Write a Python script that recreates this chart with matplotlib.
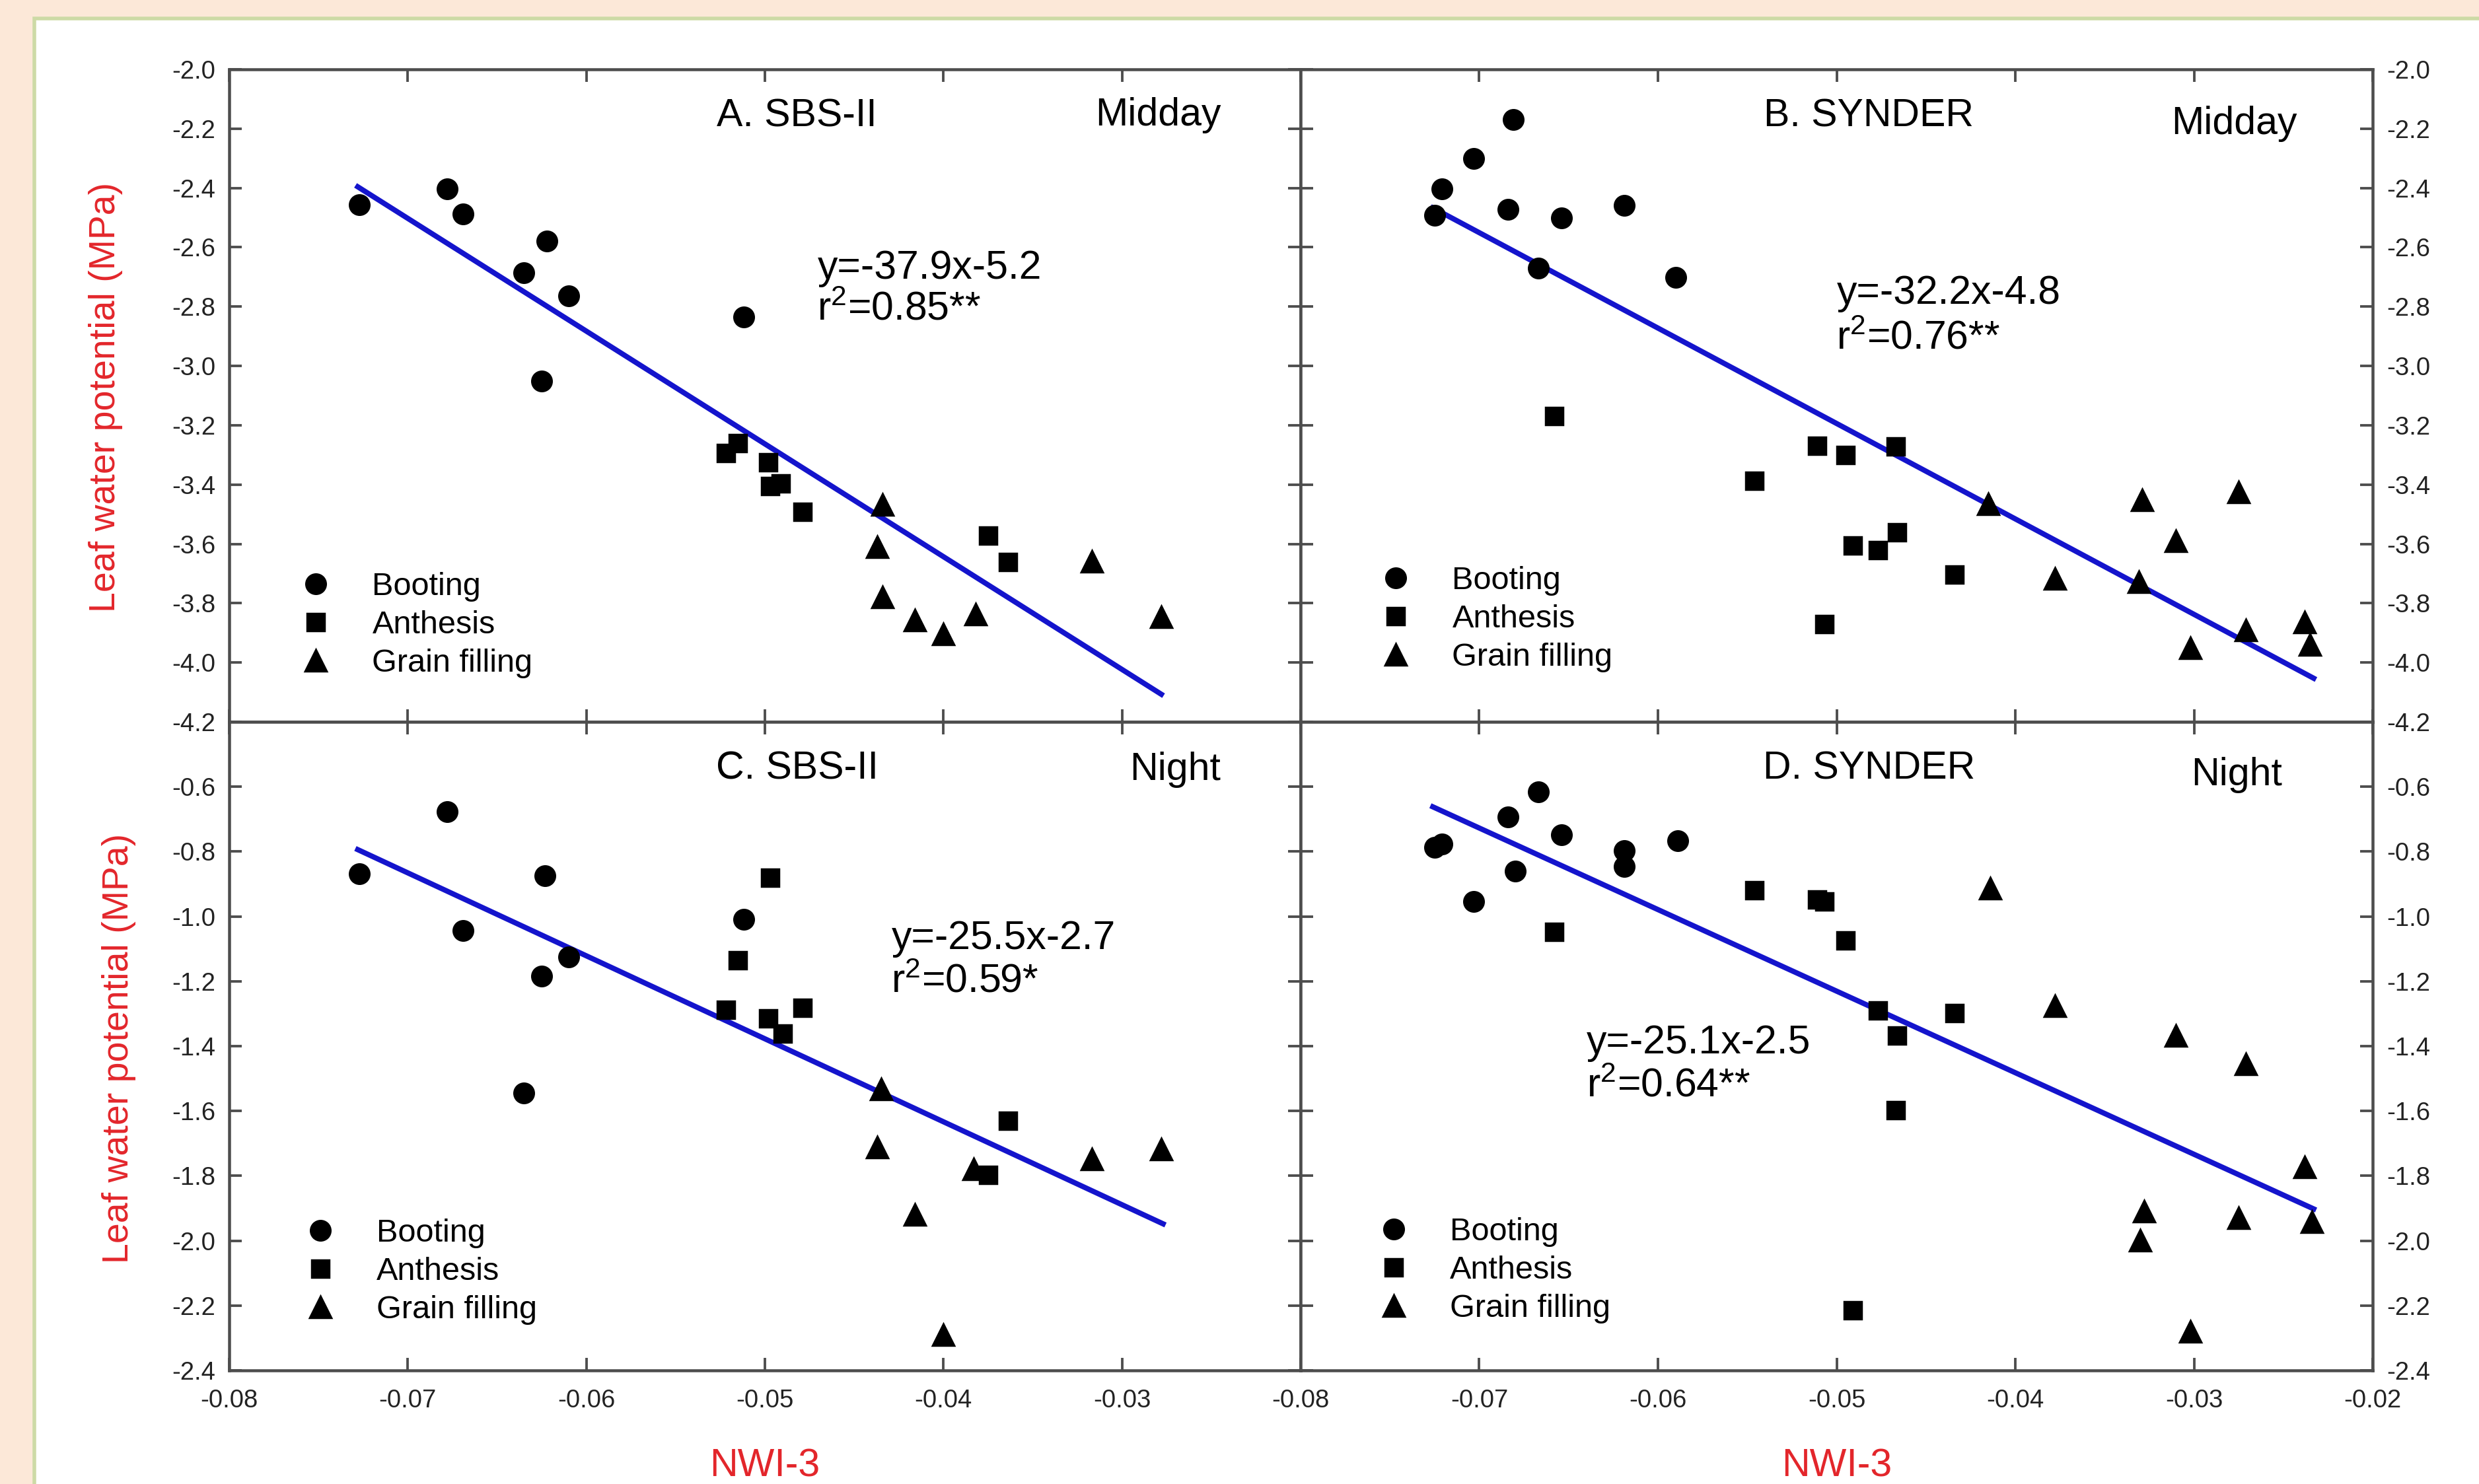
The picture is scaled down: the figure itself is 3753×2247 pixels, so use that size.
import numpy as np
import matplotlib
matplotlib.use("Agg")
import matplotlib.pyplot as plt
from matplotlib.lines import Line2D
from matplotlib.patches import Rectangle
from matplotlib.ticker import FormatStrFormatter

plt.rcParams['font.family'] = ['Liberation Sans', 'DejaVu Sans']
plt.rcParams['mathtext.default'] = 'regular'
plt.rcParams['axes.unicode_minus'] = False

# ---- data (NWI-3, leaf water potential MPa) ----
# A. SBS-II midday
a_boot_x = [-0.0727, -0.0678, -0.0669, -0.0635, -0.0622, -0.0610, -0.0625, -0.0512]
a_boot_y = [-2.457, -2.404, -2.488, -2.686, -2.579, -2.764, -3.051, -2.835]
a_anth_x = [-0.0522, -0.0515, -0.0498, -0.0497, -0.0491, -0.0479, -0.0375, -0.0364]
a_anth_y = [-3.293, -3.260, -3.326, -3.405, -3.396, -3.491, -3.572, -3.662]
a_grain_x = [-0.0434, -0.0437, -0.0434, -0.0416, -0.0400, -0.0382, -0.0317, -0.0278]
a_grain_y = [-3.468, -3.611, -3.779, -3.856, -3.904, -3.838, -3.660, -3.845]
a_fit_x = [-0.0728, -0.0278]
a_fit_y = [-2.396, -4.107]

# B. SYNDER midday
b_boot_x = [-0.0725, -0.0721, -0.0703, -0.0681, -0.0684, -0.0654, -0.0667, -0.0619, -0.0590]
b_boot_y = [-2.491, -2.404, -2.301, -2.170, -2.471, -2.501, -2.670, -2.458, -2.701]
b_anth_x = [-0.0658, -0.0546, -0.0511, -0.0495, -0.0467, -0.0491, -0.0477, -0.0466, -0.0434, -0.0507]
b_anth_y = [-3.170, -3.387, -3.270, -3.301, -3.272, -3.606, -3.621, -3.560, -3.703, -3.871]
b_grain_x = [-0.0415, -0.0378, -0.0329, -0.0331, -0.0310, -0.0275, -0.0302, -0.0271, -0.0238, -0.0235]
b_grain_y = [-3.465, -3.717, -3.452, -3.727, -3.590, -3.426, -3.950, -3.891, -3.863, -3.940]
b_fit_x = [-0.0726, -0.0233]
b_fit_y = [-2.467, -4.053]

# C. SBS-II night
c_boot_x = [-0.0727, -0.0678, -0.0669, -0.0623, -0.0625, -0.0610, -0.0635, -0.0512]
c_boot_y = [-0.869, -0.678, -1.043, -0.874, -1.184, -1.125, -1.544, -1.009]
c_anth_x = [-0.0497, -0.0515, -0.0522, -0.0498, -0.0490, -0.0479, -0.0364, -0.0375]
c_anth_y = [-0.880, -1.136, -1.287, -1.315, -1.361, -1.282, -1.631, -1.798]
c_grain_x = [-0.0435, -0.0437, -0.0383, -0.0416, -0.0400, -0.0317, -0.0278]
c_grain_y = [-1.532, -1.711, -1.779, -1.919, -2.290, -1.749, -1.718]
c_fit_x = [-0.0728, -0.0277]
c_fit_y = [-0.794, -1.948]

# D. SYNDER night
d_boot_x = [-0.0725, -0.0721, -0.0703, -0.0684, -0.0680, -0.0667, -0.0654, -0.0619, -0.0619, -0.0589]
d_boot_y = [-0.787, -0.776, -0.953, -0.693, -0.861, -0.616, -0.749, -0.798, -0.846, -0.766]
d_anth_x = [-0.0658, -0.0546, -0.0511, -0.0507, -0.0495, -0.0477, -0.0466, -0.0434, -0.0467, -0.0491]
d_anth_y = [-1.048, -0.920, -0.947, -0.953, -1.074, -1.290, -1.367, -1.299, -1.597, -2.214]
d_grain_x = [-0.0414, -0.0378, -0.0310, -0.0271, -0.0238, -0.0328, -0.0275, -0.0234, -0.0330, -0.0302]
d_grain_y = [-0.914, -1.276, -1.367, -1.454, -1.773, -1.909, -1.930, -1.942, -1.998, -2.279]
d_fit_x = [-0.0726, -0.0233]
d_fit_y = [-0.662, -1.902]

stage_labels = ["Booting", "Anthesis", "Grain filling"]
x_ticks = [-0.08, -0.07, -0.06, -0.05, -0.04, -0.03, -0.02]
y_ticks_midday = [-2.0, -2.2, -2.4, -2.6, -2.8, -3.0, -3.2, -3.4, -3.6, -3.8, -4.0, -4.2]
y_ticks_night = [-0.4, -0.6, -0.8, -1.0, -1.2, -1.4, -1.6, -1.8, -2.0, -2.2, -2.4]

W, H = 3753, 2247
fig = plt.figure(figsize=(W / 250, H / 250), dpi=250, facecolor='#fce8d8')
fig.add_artist(Rectangle((52 / W, -0.01), 1.0, 1 - 28 / H + 0.01, transform=fig.transFigure,
                         facecolor='white', edgecolor='#cddaa6', linewidth=1.6, zorder=0))

xl, xm, xr = 347 / W, 1969 / W, 3592 / W
yt, ym, yb = 1 - 105 / H, 1 - 1093 / H, 1 - 2075 / H

red = '#e3262b'
spine_col = '#4d4d4d'


def panel(pos, boot, anth, grain, fit, title, period, eq, r2, eq_pos, leg_pos,
          yticks, ylim, left, top, period_pos):
    ax = fig.add_axes(pos)
    ax.plot(fit[0], fit[1], color='#1414cc', lw=2.3, zorder=2)
    ax.plot(boot[0], boot[1], 'o', color='black', ms=8.5, zorder=3)
    ax.plot(anth[0], anth[1], 's', color='black', ms=7.6, zorder=3)
    ax.plot(grain[0], grain[1], '^', color='black', ms=9, zorder=3)
    ax.set_xlim(-0.08, -0.02)
    ax.set_ylim(*ylim)
    ax.set_xticks(x_ticks)
    ax.set_yticks(yticks)
    ax.xaxis.set_major_formatter(FormatStrFormatter('%.2f'))
    ax.yaxis.set_major_formatter(FormatStrFormatter('%.1f'))
    if left:
        ax.set_xticklabels(['%.2f' % v for v in x_ticks[:-1]] + [''])
    if not top:
        ax.set_yticklabels([''] + ['%.1f' % v for v in yticks[1:]])
    for s in ax.spines.values():
        s.set_color(spine_col)
        s.set_linewidth(1.3)
    ax.tick_params(direction='in', length=5.5, width=1.1, color=spine_col,
                   top=True, bottom=True, left=True, right=True,
                   labelbottom=not top, labelleft=left, labelright=not left,
                   labelsize=11, labelcolor='#222222', pad=6)
    ax.tick_params(axis='x', pad=8)
    ax.text(0.53, 0.928, title, transform=ax.transAxes, ha='center', va='center', fontsize=17)
    ax.text(period_pos[0], period_pos[1], period, transform=ax.transAxes,
            ha='center', va='center', fontsize=17)
    ax.text(eq_pos[0], eq_pos[1], eq, transform=ax.transAxes, ha='left', va='center', fontsize=17.5)
    ax.text(eq_pos[0], eq_pos[2], r2, transform=ax.transAxes, ha='left', va='center', fontsize=17.5)
    handles = [Line2D([], [], ls='none', marker=m, color='black', ms=s)
               for m, s in zip(['o', 's', '^'], [8.5, 7.6, 9])]
    ax.legend(handles, stage_labels, loc='upper left', bbox_to_anchor=leg_pos,
              frameon=False, fontsize=14, handlelength=1.0, handletextpad=1.25,
              labelspacing=0.27, borderpad=0, borderaxespad=0)
    return ax


panel([xl, ym, xm - xl, yt - ym], (a_boot_x, a_boot_y), (a_anth_x, a_anth_y),
      (a_grain_x, a_grain_y), (a_fit_x, a_fit_y), "A. SBS-II", "Midday",
      "y=-37.9x-5.2", "r$^2$=0.85**", (0.549, 0.695, 0.632), (0.066, 0.230),
      y_ticks_midday, (-4.2, -2.0), True, True, (0.867, 0.930))
panel([xm, ym, xr - xm, yt - ym], (b_boot_x, b_boot_y), (b_anth_x, b_anth_y),
      (b_grain_x, b_grain_y), (b_fit_x, b_fit_y), "B. SYNDER", "Midday",
      "y=-32.2x-4.8", "r$^2$=0.76**", (0.500, 0.656, 0.587), (0.074, 0.239),
      y_ticks_midday, (-4.2, -2.0), False, True, (0.871, 0.917))
panel([xl, yb, xm - xl, ym - yb], (c_boot_x, c_boot_y), (c_anth_x, c_anth_y),
      (c_grain_x, c_grain_y), (c_fit_x, c_fit_y), "C. SBS-II", "Night",
      "y=-25.5x-2.7", "r$^2$=0.59*", (0.618, 0.665, 0.599), (0.070, 0.234),
      y_ticks_night, (-2.4, -0.4), True, False, (0.883, 0.926))
panel([xm, yb, xr - xm, ym - yb], (d_boot_x, d_boot_y), (d_anth_x, d_anth_y),
      (d_grain_x, d_grain_y), (d_fit_x, d_fit_y), "D. SYNDER", "Night",
      "y=-25.1x-2.5", "r$^2$=0.64**", (0.267, 0.505, 0.438), (0.072, 0.236),
      y_ticks_night, (-2.4, -0.4), False, False, (0.873, 0.918))

fig.text(160 / W, 1 - 601 / H, "Leaf water potential (MPa)", rotation=90,
         ha='center', va='center', color=red, fontsize=16)
fig.text(180 / W, 1 - 1587 / H, "Leaf water potential (MPa)", rotation=90,
         ha='center', va='center', color=red, fontsize=16)
fig.text(1158 / W, 1 - 2220 / H, "NWI-3", ha='center', va='center', color=red, fontsize=17)
fig.text(2781 / W, 1 - 2220 / H, "NWI-3", ha='center', va='center', color=red, fontsize=17)

fig.savefig("out.png", dpi=250, facecolor=fig.get_facecolor())
